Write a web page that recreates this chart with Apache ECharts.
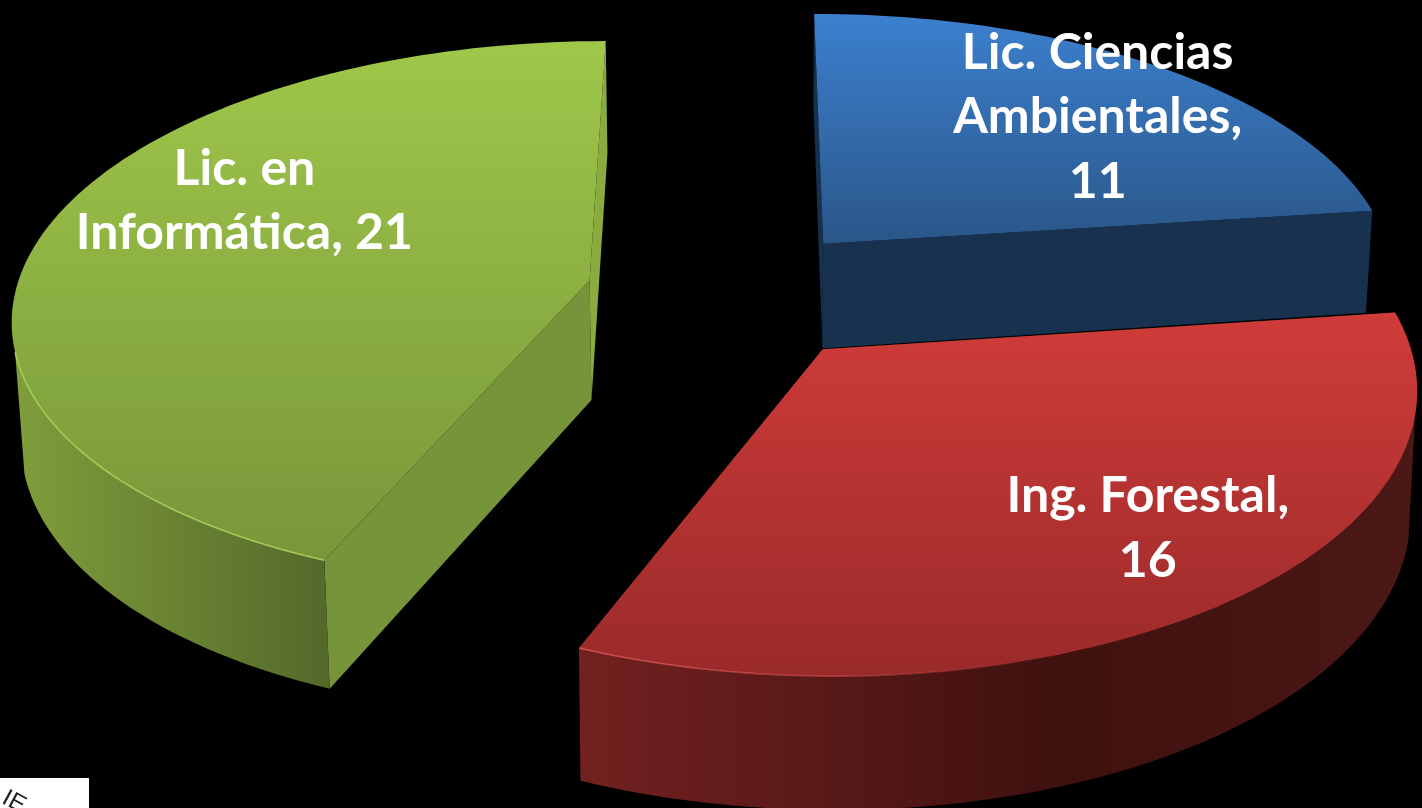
<!DOCTYPE html>
<html>
<head>
<meta charset="utf-8">
<style>html,body{margin:0;padding:0;background:#000}#c{width:1422px;height:808px}</style>
<script src="https://cdn.jsdelivr.net/npm/echarts@6/dist/echarts.min.js"></script>
</head>
<body>
<div id="c"></div>
<script>
// --- data ---
var categories = ['Lic. Ciencias Ambientales', 'Ing. Forestal', 'Lic. en Informática'];
var values = [11, 16, 21];
var labelLines = [['Lic. Ciencias', 'Ambientales,', '11'], ['Ing. Forestal,', '16'], ['Lic. en', 'Informática, 21']];

// --- style per slice ---
var topColors = [['#3C80CF', '#2A5688'], ['#CF3C39', '#9A2A2A'], ['#9FC74A', '#78973A']];
var wallStops = [
  [[0, '#1A3658'], [1, '#17314F']],
  [[0, '#722120'], [0.57, '#3F110F'], [1, '#4B1816']],
  [[0, '#7F9E3B'], [1, '#54682A']]
];
var startWall = ['#17304E', '#5c1a1a', '#76953A'];
var endWall = ['#17314F', '#5c1a1a', '#8AAB3E'];
var rimStops = [
  [[0, 'rgba(74,136,208,0)'], [1, 'rgba(74,136,208,0)']],
  [[0, 'rgba(222,90,84,0.85)'], [0.35, 'rgba(212,80,76,0.5)'], [0.6, 'rgba(212,80,76,0)'], [1, 'rgba(212,80,76,0)']],
  [[0, 'rgba(172,210,90,0.9)'], [1, 'rgba(172,210,90,0.9)']]
];

// --- projection / layout ---
var VIEW = {x0: 738, y0: 294, f: 570, g: 272, k: 0.123};
var EXPLODE = [[0.153, -0.189], [0.145, 0.198], [-0.262, -0.05]];
var RADIUS = [[1.012, 0.99], [1.007, 1], [1.008, 1]];
var WALL = [
  {shrink: 0.99, a: 156, b: -48},
  {shrink: 0.99, a: 80, b: 40},
  {shrink: 0.987, a: 70, b: 50}
];
var NEAR = [null, [103, 360], [0, 255]];   // part of the rim whose outer wall faces the viewer
var LABEL = [{r: 0.745, a: 45.0}, {r: 0.765, a: 139}, {r: 0.709, a: 296}];
var FONT = {size: 50, lh: 64.5, dy: 1};

function project(u, v) {
  var s = 1 / (1 - VIEW.k * v);
  return {x: VIEW.x0 + VIEW.f * u * s, y: VIEW.y0 + VIEW.g * v * s, s: s};
}
function planePoint(i, r, deg) {
  var t = deg * Math.PI / 180;
  var c = EXPLODE[i], R = RADIUS[i];
  return project(c[0] + r * R[0] * Math.sin(t), c[1] - r * R[1] * Math.cos(t));
}
function lowerPoint(i, p) {
  var w = WALL[i];
  return [VIEW.x0 + (p.x - VIEW.x0) * w.shrink, p.y + w.a * p.s + w.b];
}
function gradient(stops, vertical) {
  return new echarts.graphic.LinearGradient(0, 0, vertical ? 0 : 1, vertical ? 1 : 0,
    stops.map(function (s) { return {offset: s[0], color: s[1]}; }));
}
function arc(i, from, to) {
  var pts = [];
  for (var a = from; a < to; a += 1.5) pts.push(planePoint(i, 1, a));
  pts.push(planePoint(i, 1, to));
  return pts;
}
var total = values.reduce(function (a, b) { return a + b; }, 0);

function renderItem(params, api) {
  var i = params.dataIndex;
  var before = 0;
  for (var j = 0; j < i; j++) before += values[j];
  var a0 = before / total * 360;
  var a1 = (before + api.value(0)) / total * 360;
  var centre = planePoint(i, 0, 0);
  var rim = arc(i, a0, a1);
  var xy = function (p) { return [p.x, p.y]; };
  var low = function (p) { return lowerPoint(i, p); };
  var kids = [];
  // radial walls
  var first = rim[0], last = rim[rim.length - 1];
  kids.push({type: 'polygon', shape: {points: [xy(centre), xy(first), low(first), low(centre)]},
    style: {fill: startWall[i]}});
  kids.push({type: 'polygon', shape: {points: [xy(centre), xy(last), low(last), low(centre)]},
    style: {fill: endWall[i]}});
  // outer wall: only the part of the rim that faces the viewer
  if (NEAR[i]) {
    var near = arc(i, Math.max(a0, NEAR[i][0]), Math.min(a1, NEAR[i][1]));
    kids.push({type: 'polygon', shape: {points: near.map(xy).concat(near.map(low).reverse())},
      style: {fill: gradient(wallStops[i], false)}});
  }
  // top face
  kids.push({type: 'polygon', shape: {points: [xy(centre)].concat(rim.map(xy))},
    style: {fill: gradient([[0, topColors[i][0]], [1, topColors[i][1]]], true)}});
  // bevel highlight along the near rim
  if (NEAR[i]) {
    kids.push({type: 'polyline', shape: {points: near.map(xy)},
      style: {fill: 'none', stroke: gradient(rimStops[i], false), lineWidth: 1.6}});
  }
  // label
  var lp = planePoint(i, LABEL[i].r, LABEL[i].a);
  kids.push({type: 'text', z2: 10, style: {
    text: labelLines[i].join('\n'), x: lp.x, y: lp.y + FONT.dy,
    fill: '#fff', align: 'center', verticalAlign: 'middle',
    font: 'bold ' + FONT.size + 'px Lato, sans-serif', lineHeight: FONT.lh}});
  return {type: 'group', children: kids};
}

var chart = echarts.init(document.getElementById('c'), null, {renderer: 'canvas'});
chart.setOption({
  animation: false,
  backgroundColor: '#000',
  graphic: [
    {type: 'rect', z: 5, shape: {x: 0, y: 778, width: 89, height: 30}, style: {fill: '#fff'}},
    {type: 'text', z: 6, x: 14, y: 802, rotation: -0.5, style: {text: 'IE', fill: '#222', font: '24px "Liberation Sans", sans-serif', align: 'center', verticalAlign: 'middle'}}
  ],
  series: [{
    type: 'custom',
    coordinateSystem: 'none',
    renderItem: renderItem,
    data: values.map(function (v, i) { return {name: categories[i], value: v}; })
  }]
});
</script>
</body>
</html>
